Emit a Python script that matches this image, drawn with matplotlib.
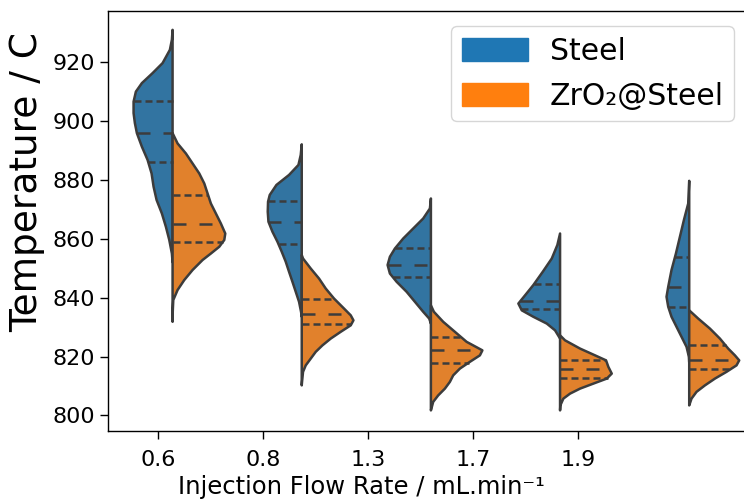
import numpy as np
import matplotlib
matplotlib.use('Agg')
import matplotlib.pyplot as plt
import matplotlib.patches as mpatches

# flow rates (categories)
rates = ['0.6', '0.8', '1.3', '1.7', '1.9']

# violin outlines: temperature (C) and relative density
st06_t = [931.0, 927.6, 924.2, 919.7, 916.3, 912.9, 910.0, 906.6, 902.7, 899.3, 895.9,
          891.3, 886.8, 882.2, 877.7, 873.2, 868.6, 864.1, 859.6, 855.0, 852.0]
st06_d = [0, 0.7, 2.7, 10, 20, 30.7, 36.7, 39, 39, 37.7, 35.7,
          30.7, 25, 21, 19, 16, 10.7, 6.7, 3.3, 0.7, 0]
zr06_t = [895.9, 892.4, 889.0, 885.6, 882.2, 878.8, 875.4, 872.0, 868.6, 865.2, 861.8,
          859.6, 857.3, 855.0, 852.8, 849.4, 846.0, 842.6, 839.2, 835.5, 831.8]
zr06_d = [0, 5, 13.3, 20, 26.7, 31.7, 35, 38.3, 43.3, 48.3, 52.7,
          51.7, 46.7, 38.3, 30, 20, 11.7, 5, 0.7, 0.2, 0]

st08_t = [892.1, 888.5, 885.1, 881.7, 878.3, 874.9, 872.6, 869.2, 865.8, 862.4, 859.0,
          855.6, 852.2, 848.8, 845.4, 842.0, 838.6, 835.2, 833.5]
st08_d = [0, 1, 3.3, 12.7, 25.3, 32, 33.7, 34, 33.3, 29.3, 24.3,
          20, 16, 12.7, 9.3, 6, 2.7, 0.7, 0]
zr08_t = [854.5, 853.3, 849.9, 846.5, 843.1, 839.7, 836.3, 834.0, 832.3, 830.6, 828.4,
          826.1, 823.8, 821.6, 819.3, 817.0, 814.8, 811.4, 810.2]
zr08_d = [0, 1.3, 9, 17.3, 24, 32.3, 42.3, 49, 51.7, 49, 39,
          29, 20.7, 14, 9, 4, 1.3, 0.3, 0]

st13_t = [873.7, 870.3, 866.9, 863.5, 860.1, 856.7, 853.9, 851.1, 848.2, 845.4, 842.0,
          838.6, 835.2, 832.9, 831.2]
st13_d = [0, 1, 7.7, 17.7, 27.7, 36, 41, 43.3, 41, 34.3, 24.3,
          16, 7.7, 1.7, 0]
zr13_t = [837.4, 835.2, 831.8, 828.4, 825.0, 822.1, 820.4, 818.2, 815.9, 813.6, 811.4,
          809.1, 806.8, 804.6, 801.7]
zr13_d = [0, 3, 12.3, 24, 35.7, 51.5, 49, 39, 29, 22.3, 19,
          14, 7.3, 2.3, 0]

st17_t = [861.8, 857.9, 853.3, 848.8, 844.3, 840.8, 838.0, 835.7, 833.5, 831.2, 828.9, 826.1]
st17_d = [0, 2.7, 8.3, 17.3, 26.7, 35, 41.7, 38.3, 26.7, 13.3, 5, 0]
zr17_t = [827.2, 825.5, 822.7, 820.4, 818.7, 816.5, 814.2, 812.5, 810.8, 809.1, 807.4,
          805.7, 803.4, 801.7]
zr17_d = [0, 5, 20, 35, 46, 48.3, 51.7, 46.7, 33.3, 20, 10,
          3.3, 0.3, 0]

st19_t = [879.7, 872.0, 866.4, 860.7, 855.0, 849.4, 843.7, 840.3, 836.9, 833.5, 830.1,
          826.7, 823.3, 819.9, 818.0]
st19_d = [0, 1, 5.3, 9.3, 13.3, 17.7, 21, 22.7, 21, 17.7, 12.7,
          7.7, 2.7, 0.3, 0]
zr19_t = [835.7, 832.9, 829.5, 826.1, 822.7, 820.4, 818.7, 817.0, 814.8, 812.5, 810.2,
          808.0, 805.7, 803.4]
zr19_d = [0, 9, 20.7, 30.7, 39, 45.7, 50, 47.3, 37.3, 25.7, 15.7,
          7.3, 2.3, 0]

# quartiles (25, 50, 75 %)
steel_q = [[886.0, 895.9, 906.7], [858.1, 865.8, 872.9], [846.9, 851.1, 856.9],
           [836.0, 838.8, 844.8], [836.9, 843.7, 853.7]]
zro2_q = [[859.0, 865.0, 874.9], [830.9, 834.6, 839.7], [817.9, 822.1, 826.7],
          [812.8, 815.9, 818.7], [815.7, 818.7, 823.8]]

steel_t = [st06_t, st08_t, st13_t, st17_t, st19_t]
steel_d = [st06_d, st08_d, st13_d, st17_d, st19_d]
zro2_t = [zr06_t, zr08_t, zr13_t, zr17_t, zr19_t]
zro2_d = [zr06_d, zr08_d, zr13_d, zr17_d, zr19_d]

blue = '#3274a1'
orange = '#e1812c'
gray = '#3c3c3c'
lw = 1.8

fig = plt.figure(figsize=(7.44, 5.04), dpi=100)
ax = fig.add_axes([108 / 744, 1 - 431 / 504, (753.8 - 108) / 744, 420 / 504])

dmax = max(max(d) for d in steel_d + zro2_d)
k = 0.408 / dmax


def half(ax, pos, t, d, q, color, side):
    t = np.array(t)
    d = np.array(d) * k * side
    xs = np.concatenate([pos + d, [pos, pos]])
    ys = np.concatenate([t, [t[-1], t[0]]])
    ax.fill(xs, ys, facecolor=color, edgecolor=gray, linewidth=lw,
            joinstyle='round', zorder=2)
    for j, v in enumerate(q):
        w = np.interp(v, t[::-1], d[::-1])
        dash = (5.2, 5.2) if j == 1 else (2.8, 1.6)
        if side < 0:
            xx = [pos + w, pos]
        else:
            xx = [pos, pos + w]
        ax.plot(xx, [v, v], color=gray, lw=lw, dashes=dash,
                dash_capstyle='butt', zorder=3)


for i in range(len(rates)):
    half(ax, i, steel_t[i], steel_d[i], steel_q[i], blue, -1)
    half(ax, i, zro2_t[i], zro2_d[i], zro2_q[i], orange, 1)

ax.set_xlim(-0.5, 4.5)
ax.set_ylim(794.7, 937.4)
ax.set_yticks(np.arange(800, 921, 20))
ax.set_xticks(np.arange(5) * 0.812 - 0.111)
ax.set_xticklabels(rates)
ax.tick_params(labelsize=16, length=6, width=1)
ax.tick_params(axis='x', pad=8)
for s in ax.spines.values():
    s.set_linewidth(1.0)

ax.set_xlabel('Injection Flow Rate / mL.min\u207b\u00b9', fontsize=17.5)
ax.xaxis.set_label_coords(0.392, -0.105)
ax.set_ylabel('Temperature / C', fontsize=27)
ax.yaxis.set_label_coords(-0.097, 0.593)

handles = [mpatches.Patch(facecolor='#1f77b4', edgecolor='#1f77b4', label='Steel'),
           mpatches.Patch(facecolor='#ff7f0e', edgecolor='#ff7f0e', label='ZrO\u2082@Steel')]
ax.legend(handles=handles, loc='upper right', bbox_to_anchor=(0.970, 0.964),
          borderaxespad=0, fontsize=21.5, handlelength=2.2, handleheight=0.8,
          labelspacing=0.55, borderpad=0.35, handletextpad=0.75)

fig.savefig('out.png', dpi=100)
